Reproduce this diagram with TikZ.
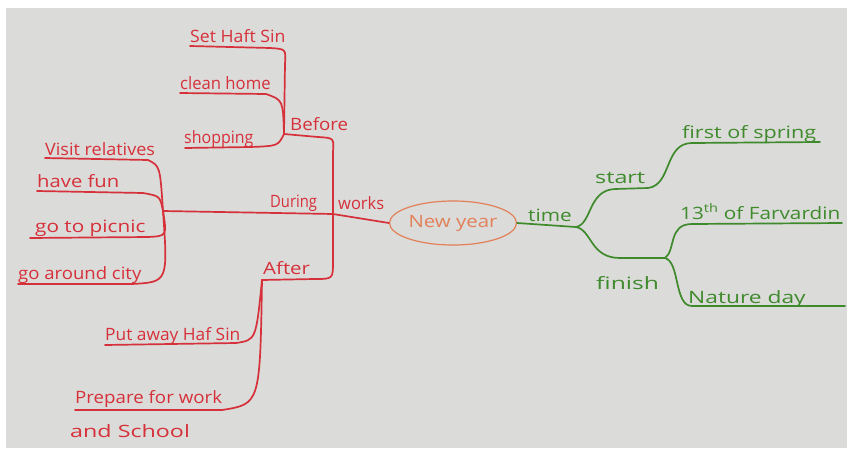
\documentclass[tikz,border=0pt]{standalone}
\usepackage{fontspec}
\setmainfont{Open Sans}
\usetikzlibrary{shapes.geometric}
\definecolor{mred}{RGB}{214,48,58}
\definecolor{mgreen}{RGB}{62,138,44}
\definecolor{morange}{RGB}{226,128,88}
\definecolor{paper}{RGB}{219,219,217}
\newcommand{\hw}[2]{\scalebox{#1}[1]{#2}}
\begin{document}
\begin{tikzpicture}[x=1pt,y=-1pt,
  redl/.style={draw=mred,line width=1.7pt,line cap=round,line join=round},
  greenl/.style={draw=mgreen,line width=1.7pt,line cap=round,line join=round},
  rtxt/.style={text=mred,font=\fontsize{17}{19}\selectfont,inner sep=0pt,anchor=base west},
  gtxt/.style={text=mgreen,font=\fontsize{17}{19}\selectfont,inner sep=0pt,anchor=base west}]
\fill[white] (0,0) rectangle (847,448);
\fill[paper] (6,8) rectangle (847,448);
\useasboundingbox (0,0) rectangle (847,448);

% central node
\node[ellipse,draw=morange,line width=1.2pt,inner sep=0pt,minimum width=127pt,minimum height=44pt,
  text=morange,font=\fontsize{17}{19}\selectfont] (ny) at (453,223) {\hw{1.2}{New year}};

% junctions
\coordinate (jm) at (333,214);
\coordinate (jb) at (284,134);
\coordinate (jd) at (163,211);
\coordinate (ja) at (262,280);
\coordinate (jt) at (576,227);
\coordinate (jf) at (665,258);

% leaf line ends
\coordinate (e1) at (190,46);
\coordinate (e2) at (180,93);
\coordinate (e3) at (185,148);
\coordinate (e4) at (45,158);
\coordinate (e5) at (37,191);
\coordinate (e6) at (30,238);
\coordinate (e7) at (18,284);
\coordinate (e8) at (105,345);
\coordinate (e9) at (75,410);
\coordinate (g1) at (820,142);
\coordinate (g2) at (842,223);
\coordinate (g3) at (845,306);

% texts
\node[rtxt] (tsh) at (190,42) {\hw{1.04}{Set Haft Sin}};
\node[rtxt] (tch) at (180,89) {\hw{0.98}{clean home}};
\node[rtxt] (tsp) at (184,143) {\hw{0.94}{shopping}};
\node[rtxt] (tbe) at (290,130) {\hw{1.1}{Before}};
\node[rtxt] (tvr) at (45,155) {\hw{1.06}{Visit relatives}};
\node[rtxt] (thf) at (37,187) {\hw{1.19}{have fun}};
\node[rtxt] (tpi) at (35,232) {\hw{1.22}{go to picnic}};
\node[rtxt] (tac) at (18,279) {\hw{1.09}{go around city}};
\node[rtxt] (tdu) at (270,207) {\hw{0.87}{During}};
\node[rtxt] (two) at (338,209) {\hw{0.97}{works}};
\node[rtxt] (taf) at (263,274) {\hw{1.2}{After}};
\node[rtxt] (tpa) at (105,340) {\hw{1.02}{Put away Haf Sin}};
\node[rtxt] (tpw) at (75,403) {\hw{1.1}{Prepare for work}};
\node[rtxt] (tas) at (70,437) {\hw{1.37}{and School}};
\node[gtxt] (tti) at (528,221) {\hw{1.22}{time}};
\node[gtxt] (tst) at (595,183) {\hw{1.37}{start}};
\node[gtxt] (tfi) at (596,289) {\hw{1.45}{finish}};
\node[gtxt] (tfs) at (682,138) {\hw{1.27}{first of spring}};
\node[gtxt] (tfa) at (680,219) {\hw{1.22}{13\textsuperscript{th} of Farvardin}};
\node[gtxt] (tnd) at (688,303) {\hw{1.34}{Nature day}};

% red connectors
\draw[redl] (ny.west) -- (jm);
\draw[redl] (jm) -- (jd);
\draw[redl] (jm) -- (333,152) .. controls (334,138) .. (318,137) -- (jb);
\draw[redl] (jm) -- (333,262) .. controls (333,279) .. (314,279) -- (ja);
\draw[redl] (jb) -- (285,64) .. controls (286,49) .. (270,48) -- (e1);
\draw[redl] (jb) .. controls (283,100) .. (266,94) -- (e2);
\draw[redl] (jb) .. controls (278,146) .. (250,147) -- (e3);
\draw[redl] (jd) .. controls (160,166) .. (148,160) -- (e4);
\draw[redl] (jd) .. controls (160,196) .. (143,193) -- (e5);
\draw[redl] (jd) .. controls (167,236) .. (148,237) -- (e6);
\draw[redl] (jd) .. controls (168,282) .. (132,284) -- (e7);
\draw[redl] (ja) .. controls (256,340) .. (236,343) -- (e8);
\draw[redl] (ja) .. controls (260,404) .. (222,410) -- (e9);

% green connectors
\draw[greenl] (ny.east) -- (jt);
\draw[greenl] (jt) .. controls (592,224) and (588,190) .. (615,189) -- (648,188)
  .. controls (672,185) and (664,143) .. (692,143) -- (g1);
\draw[greenl] (jt) .. controls (592,230) and (590,258) .. (620,258) -- (jf);
\draw[greenl] (jf) .. controls (676,250) and (668,224) .. (692,224) -- (g2);
\draw[greenl] (jf) .. controls (680,262) and (674,306) .. (692,306) -- (g3);
\end{tikzpicture}
\end{document}
